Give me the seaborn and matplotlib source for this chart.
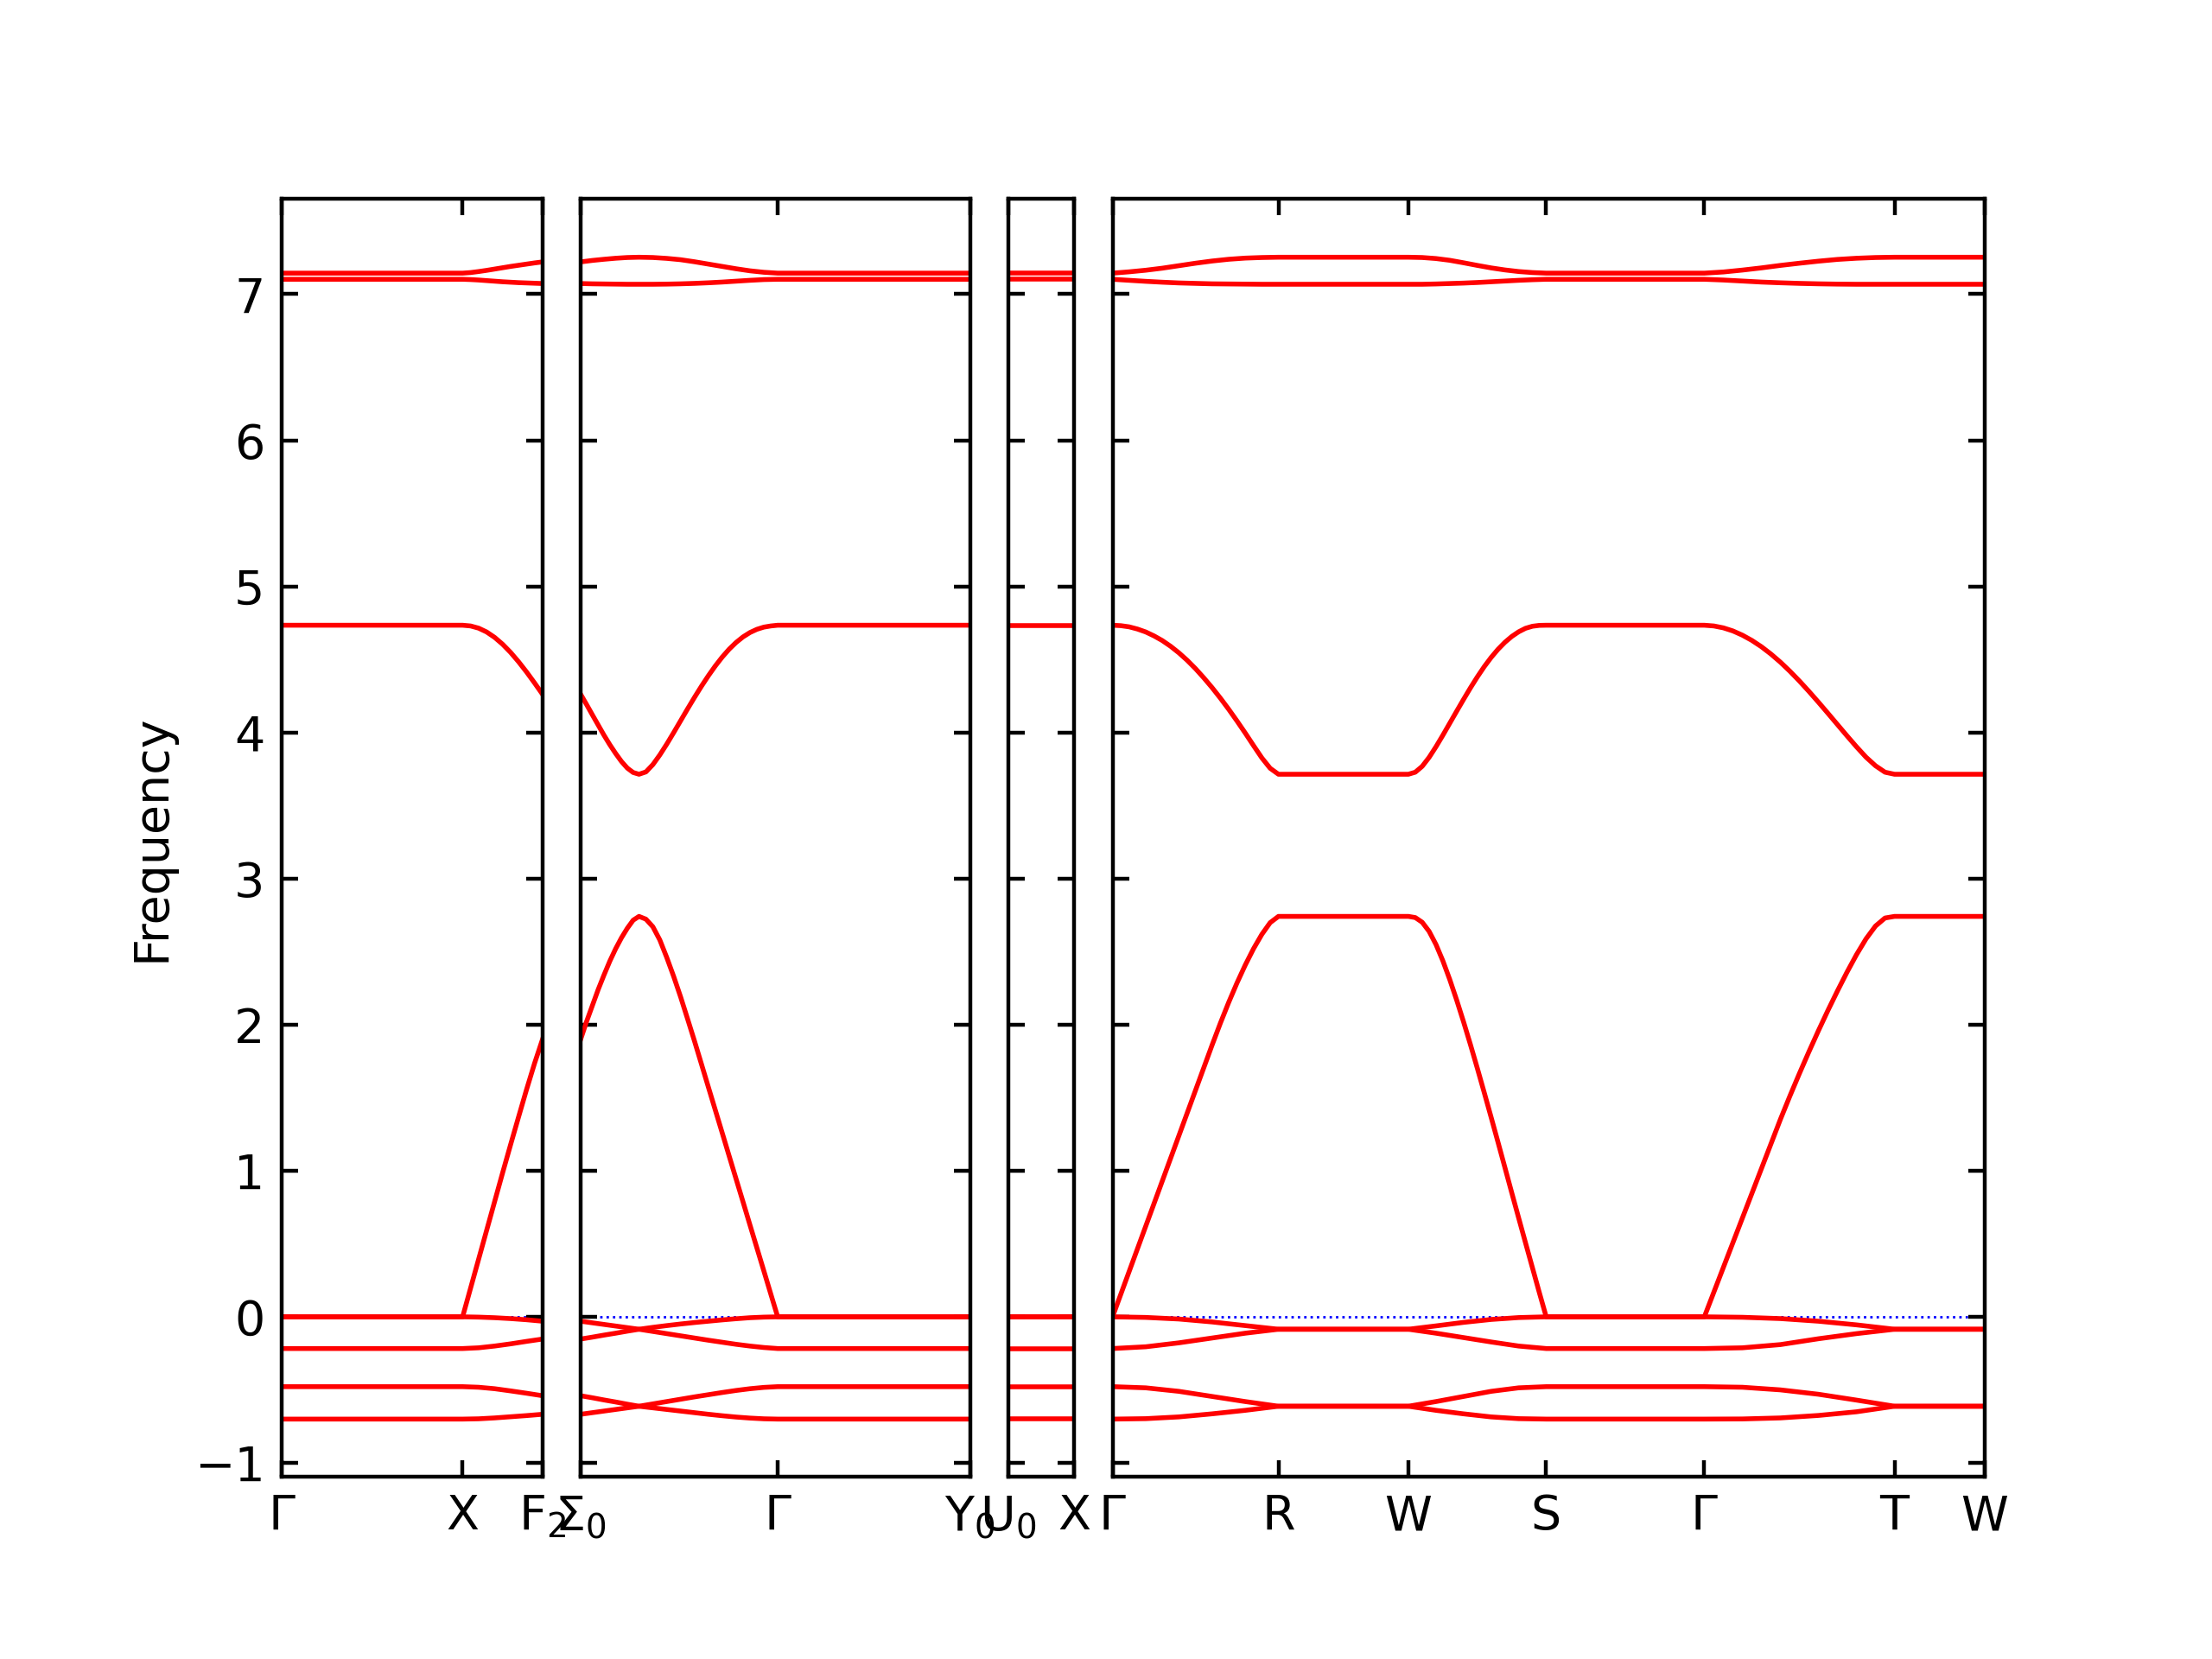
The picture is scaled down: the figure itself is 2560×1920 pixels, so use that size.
import numpy as np
import pandas as pd
import matplotlib
matplotlib.use('Agg')
import matplotlib.pyplot as plt
import seaborn as sns

# ------------------------------------------------------------
# 数据：能带沿高对称路径的取值（每段内等间距取样，顺序为由高到低 8 条带）
# ------------------------------------------------------------

# 各面板中每一段路径的长度
len_panel1 = [2.095, 0.925]                               # Γ-X, X-F2
len_panel2 = [0.675, 1.605, 2.225]                        # Σ0-(区边界), -Γ, Γ-Y0
len_panel3 = [0.7675]                                     # U0-X
len_panel4 = [1.92, 1.504, 1.595, 1.83, 2.201, 1.045]     # Γ-R-W-S-Γ-T-W

# 各段端点的标签（None 表示不标注）
labels_panel1 = ['$\\Gamma$', 'X', 'F$_2$']
labels_panel2 = ['$\\Sigma_0$', None, '$\\Gamma$', 'Y$_0$']
labels_panel3 = ['U$_0$', 'X']
labels_panel4 = ['$\\Gamma$', 'R', 'W', 'S', '$\\Gamma$', 'T', 'W']

# Γ 点附近的平带
seg_flat_G = [[7.144, 7.144], [7.102, 7.102], [4.734, 4.734], [0.0, 0.0],
              [0.0, 0.0], [-0.217, -0.217], [-0.478, -0.478], [-0.700, -0.700]]

# R / W / T 之间的平带
seg_flat_R = [[7.253, 7.253], [7.068, 7.068], [3.714, 3.714], [2.741, 2.741],
              [-0.085, -0.085], [-0.085, -0.085], [-0.612, -0.612], [-0.612, -0.612]]

seg_X_F2 = [
    [7.144, 7.148, 7.155, 7.163, 7.172, 7.181, 7.190, 7.198, 7.206, 7.214, 7.221],
    [7.102, 7.100, 7.097, 7.093, 7.089, 7.085, 7.082, 7.079, 7.077, 7.075, 7.073],
    [4.734, 4.729, 4.714, 4.688, 4.651, 4.604, 4.548, 4.484, 4.414, 4.339, 4.261],
    [0.0, 0.197, 0.394, 0.591, 0.788, 0.985, 1.178, 1.368, 1.556, 1.735, 1.900],
    [0.0, -0.002, -0.006, -0.012, -0.020, -0.030],
    [-0.217, -0.212, -0.200, -0.185, -0.168, -0.152],
    [-0.478, -0.482, -0.492, -0.507, -0.523, -0.540],
    [-0.700, -0.698, -0.692, -0.684, -0.676, -0.667],
]

seg_S0_P = [
    [7.221, 7.231, 7.239, 7.246, 7.251, 7.253],
    [7.073, 7.071, 7.070, 7.069, 7.068, 7.068],
    [4.261, 4.192, 4.121, 4.051, 3.981, 3.916, 3.856, 3.801, 3.756, 3.726, 3.714],
    [1.900, 2.020, 2.130, 2.240, 2.340, 2.435, 2.520, 2.595, 2.660, 2.715, 2.741],
    [-0.030, -0.041, -0.052, -0.063, -0.074, -0.085],
    [-0.152, -0.139, -0.125, -0.112, -0.098, -0.085],
    [-0.540, -0.554, -0.569, -0.583, -0.598, -0.612],
    [-0.667, -0.656, -0.645, -0.634, -0.623, -0.612],
]

seg_P_G = [
    [7.253, 7.251, 7.245, 7.236, 7.222, 7.206, 7.190, 7.174, 7.160, 7.150, 7.144],
    [7.068, 7.068, 7.069, 7.071, 7.074, 7.078, 7.083, 7.089, 7.095, 7.100, 7.102],
    [3.714, 3.730, 3.780, 3.846, 3.920, 3.999, 4.080, 4.161, 4.240, 4.316, 4.388,
     4.455, 4.516, 4.570, 4.616, 4.654, 4.684, 4.706, 4.721, 4.729, 4.734],
    [2.741, 2.722, 2.670, 2.580, 2.460, 2.330, 2.190, 2.040, 1.888, 1.731, 1.573,
     1.416, 1.259, 1.101, 0.944, 0.787, 0.629, 0.472, 0.315, 0.157, 0.0],
    [-0.085, -0.072, -0.060, -0.049, -0.039, -0.030, -0.021, -0.013, -0.006, -0.002, 0.0],
    [-0.085, -0.100, -0.115, -0.130, -0.145, -0.160, -0.174, -0.188, -0.200, -0.210, -0.217],
    [-0.612, -0.596, -0.580, -0.564, -0.548, -0.533, -0.518, -0.504, -0.492, -0.483, -0.478],
    [-0.612, -0.623, -0.634, -0.645, -0.656, -0.667, -0.677, -0.686, -0.693, -0.698, -0.700],
]

seg_G_R = [
    [7.144, 7.153, 7.164, 7.178, 7.195, 7.212, 7.227, 7.239, 7.247, 7.251, 7.253],
    [7.102, 7.095, 7.088, 7.082, 7.077, 7.074, 7.071, 7.070, 7.069, 7.068, 7.068],
    [4.734, 4.731, 4.723, 4.708, 4.688, 4.661, 4.629, 4.590, 4.545, 4.494, 4.437,
     4.374, 4.307, 4.235, 4.159, 4.079, 3.996, 3.910, 3.826, 3.755, 3.714],
    [0.0, 0.155, 0.310, 0.465, 0.620, 0.775, 0.930, 1.085, 1.240, 1.395, 1.550,
     1.705, 1.860, 2.010, 2.152, 2.285, 2.408, 2.520, 2.618, 2.698, 2.741],
    [0.0, -0.004, -0.015, -0.035, -0.060, -0.085],
    [-0.217, -0.205, -0.178, -0.145, -0.112, -0.085],
    [-0.478, -0.486, -0.510, -0.545, -0.580, -0.612],
    [-0.700, -0.697, -0.685, -0.664, -0.640, -0.612],
]

seg_W_S = [
    [7.253, 7.251, 7.244, 7.232, 7.215, 7.197, 7.180, 7.166, 7.155, 7.148, 7.144],
    [7.068, 7.068, 7.070, 7.073, 7.076, 7.080, 7.085, 7.090, 7.095, 7.099, 7.102],
    [3.714, 3.728, 3.768, 3.829, 3.902, 3.981, 4.063, 4.145, 4.226, 4.305, 4.380,
     4.450, 4.513, 4.569, 4.617, 4.657, 4.689, 4.713, 4.727, 4.733, 4.734],
    [2.741, 2.733, 2.701, 2.639, 2.549, 2.437, 2.309, 2.169, 2.020, 1.864, 1.702,
     1.536, 1.367, 1.196, 1.023, 0.849, 0.677, 0.506, 0.336, 0.166, 0.0],
    [-0.085, -0.062, -0.038, -0.018, -0.005, 0.0],
    [-0.085, -0.112, -0.142, -0.172, -0.200, -0.217],
    [-0.612, -0.580, -0.545, -0.510, -0.486, -0.478],
    [-0.612, -0.640, -0.664, -0.685, -0.697, -0.700],
]

seg_G_T = [
    [7.144, 7.152, 7.165, 7.180, 7.197, 7.212, 7.226, 7.238, 7.246, 7.251, 7.253],
    [7.102, 7.097, 7.090, 7.083, 7.078, 7.074, 7.071, 7.069, 7.068, 7.068, 7.068],
    [4.734, 4.729, 4.716, 4.695, 4.666, 4.630, 4.587, 4.537, 4.481, 4.419, 4.352,
     4.281, 4.207, 4.131, 4.054, 3.977, 3.902, 3.831, 3.772, 3.728, 3.714],
    [0.0, 0.169, 0.338, 0.507, 0.676, 0.845, 1.014, 1.183, 1.352, 1.512, 1.666,
     1.815, 1.959, 2.098, 2.231, 2.359, 2.479, 2.587, 2.675, 2.730, 2.741],
    [0.0, -0.003, -0.012, -0.030, -0.055, -0.085],
    [-0.217, -0.212, -0.190, -0.150, -0.115, -0.085],
    [-0.478, -0.482, -0.500, -0.530, -0.570, -0.612],
    [-0.700, -0.699, -0.692, -0.675, -0.650, -0.612],
]

panels = [
    (len_panel1, [seg_flat_G, seg_X_F2], labels_panel1),
    (len_panel2, [seg_S0_P, seg_P_G, seg_flat_G], labels_panel2),
    (len_panel3, [seg_flat_G], labels_panel3),
    (len_panel4, [seg_G_R, seg_flat_R, seg_W_S, seg_flat_G, seg_G_T, seg_flat_R], labels_panel4),
]


def panel_frame(lengths, segs):
    """把每段的取样值拼成长表，x 为沿路径的累计距离"""
    rows = []
    for band in range(8):
        start = 0.0
        for L, seg in zip(lengths, segs):
            vals = seg[band]
            xs = np.linspace(start, start + L, len(vals))
            for x, v in zip(xs, vals):
                rows.append((band, x, v))
            start += L
    return pd.DataFrame(rows, columns=['band', 'dist', 'freq'])


# ------------------------------------------------------------
# 绘图
# ------------------------------------------------------------
fig, axes = plt.subplots(1, 4, figsize=(6.4, 4.8), dpi=400, sharey=True,
                         gridspec_kw={'width_ratios': [sum(p[0]) for p in panels],
                                      'wspace': 0.096})
fig.subplots_adjust(left=0.1273, right=0.8973, top=0.88, bottom=0.11)

for i, (ax, (lengths, segs, labels)) in enumerate(zip(axes, panels)):
    df = panel_frame(lengths, segs)

    # 零频参考线
    ax.axhline(0, color='b', linestyle=':', linewidth=0.5, zorder=1)

    sns.lineplot(data=df, x='dist', y='freq', units='band', estimator=None,
                 sort=False, color='r', linewidth=1.0, legend=False, ax=ax, zorder=2)

    # 高对称点刻度
    bounds = np.concatenate([[0.0], np.cumsum(lengths)])
    tick_pos = [b for b, lab in zip(bounds, labels) if lab is not None]
    tick_lab = [lab for lab in labels if lab is not None]
    ax.set_xticks(tick_pos)
    ax.set_xticklabels(tick_lab)
    ax.set_xlim(0, bounds[-1])
    ax.set_ylim(-1.093, 7.651)
    ax.set_yticks(range(-1, 8))

    ax.tick_params(direction='in', top=True, right=True, labelleft=(i == 0))
    ax.set_xlabel('')
    ax.set_ylabel('Frequency' if i == 0 else '')

fig.savefig('out.png', dpi=400)
